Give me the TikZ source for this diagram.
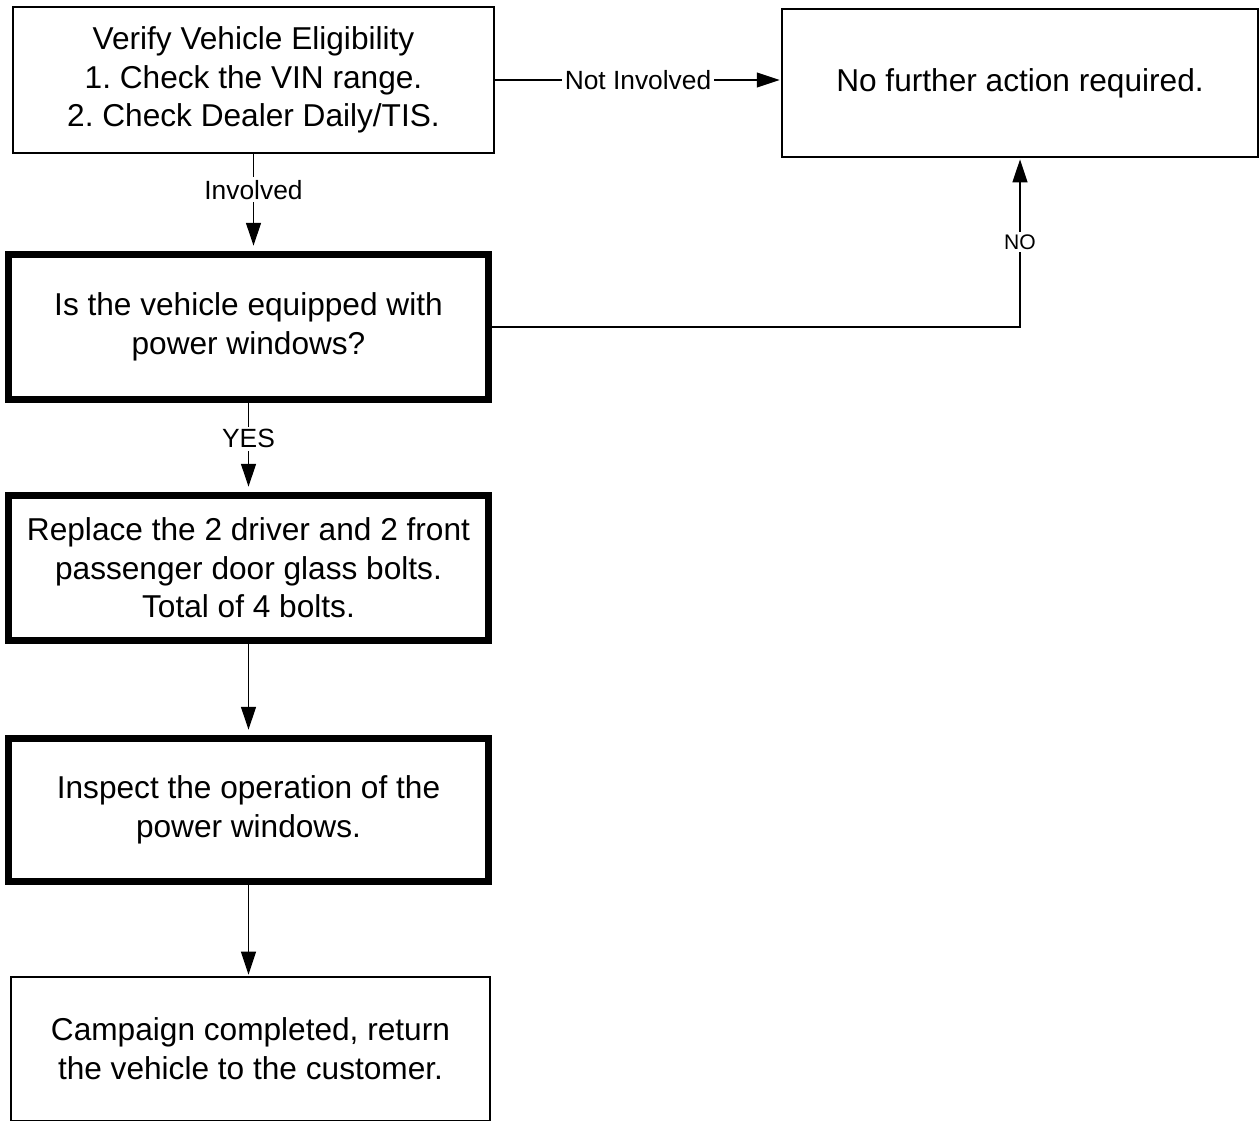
\documentclass[tikz,border=0pt]{standalone}
\usepackage{fontspec}
\setmainfont{Liberation Sans}
\usetikzlibrary{arrows.meta}
\frenchspacing

\begin{document}
\begin{tikzpicture}[x=0.02cm,y=-0.02cm,
    thinbox/.style={draw,line width=0.8pt,align=center,inner sep=0pt,
        font=\fontsize{18}{22}\selectfont},
    thickbox/.style={draw,line width=4pt,align=center,inner sep=0pt,
        font=\fontsize{18}{22}\selectfont},
    flow/.style={line width=0.7pt,-{Triangle[length=13pt,width=8.5pt]}},
    lbl/.style={fill=white,inner sep=1.5pt,font=\fontsize{15}{17}\selectfont}]

        \useasboundingbox (0,0) rectangle (1260,1121);

        % Boxes
        \node[thinbox,minimum width=9.62cm,minimum height=2.92cm] (verify) at (253.5,80)
            {Verify Vehicle Eligibility\\1. Check the VIN range.\\2. Check Dealer Daily/TIS.};
        \node[thinbox,minimum width=9.52cm,minimum height=2.96cm] (nofurther) at (1020,83)
            {No further action required.};
        \node[thickbox,minimum width=9.6cm,minimum height=2.9cm] (power) at (248.5,327)
            {Is the vehicle equipped with\\power windows?};
        \node[thickbox,minimum width=9.6cm,minimum height=2.9cm] (replace) at (248.5,568)
            {Replace the 2 driver and 2 front\\passenger door glass bolts.\\Total of 4 bolts.};
        \node[thickbox,minimum width=9.6cm,minimum height=2.86cm] (inspect) at (248.5,810)
            {Inspect the operation of the\\power windows.};
        \node[thinbox,minimum width=9.58cm,minimum height=2.88cm] (campaign) at (250.5,1049)
            {Campaign completed, return\\the vehicle to the customer.};

        % Arrows
        \draw[flow,shorten >=3pt] (verify.south) -- (verify.south |- power.north)
            node[lbl,pos=0.37] {Involved};
        \draw[flow,shorten >=1pt] (verify.east) -- (verify.east -| nofurther.west)
            node[lbl,pos=0.5] {Not Involved};
        \draw[flow,shorten >=1pt] (power.east) -| (nofurther.south)
            node[lbl,pos=0.75,font=\fontsize{12}{14}\selectfont] {NO};
        \draw[flow,shorten >=3pt] (power.south) -- (power.south |- replace.north)
            node[lbl,pos=0.4] {YES};
        \draw[flow,shorten >=3pt] (replace.south) -- (inspect.north);
        \draw[flow,shorten >=1pt] (inspect.south) -- (inspect.south |- campaign.north);

    \end{tikzpicture}
\end{document}
